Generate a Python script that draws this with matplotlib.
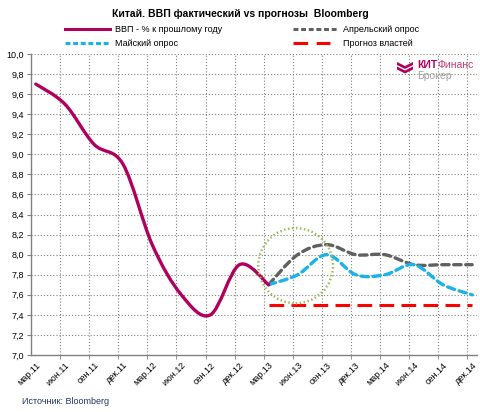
import numpy as np
import matplotlib
matplotlib.use("Agg")
import matplotlib.pyplot as plt
from matplotlib.path import Path
from matplotlib.patches import PathPatch, Ellipse, Polygon
from matplotlib.lines import Line2D

plt.rcParams['font.family'] = ['Liberation Sans', 'DejaVu Sans']

# monthly category axis, мар.11 .. дек.14
months = ['мар', 'июн', 'сен', 'дек']
years = ['11', '12', '13', '14']
tick_labels = [f"{m}.{y}" for y in years for m in months][:16]
n_months = 46

# quarterly values (index = months since мар.11)
gdp_x = [0, 3, 6, 9, 12, 15, 18, 21, 24]
gdp_y = [9.7, 9.5, 9.1, 8.9, 8.1, 7.6, 7.4, 7.9, 7.7]

fc_x = [24, 27, 30, 33, 36, 39, 42, 45]
april_y = [7.7, 8.0, 8.1, 8.0, 8.0, 7.9, 7.9, 7.9]
may_y = [7.7, 7.8, 8.0, 7.8, 7.8, 7.9, 7.7, 7.6]
gov_y = [7.5, 7.5, 7.5, 7.5, 7.5, 7.5, 7.5, 7.5]

C_GDP = '#B0005E'
C_APR = '#606060'
C_MAY = '#1AB2EA'
C_GOV = '#FF0000'
C_CIRC = '#9BBB59'


def smooth_path(xs, ys):
    # Excel-like smoothed line: cubic Bezier through the points
    p = np.column_stack([xs, ys]).astype(float)
    verts = [p[0]]
    codes = [Path.MOVETO]
    n = len(p)
    for i in range(n - 1):
        p0 = p[i - 1] if i > 0 else p[i]
        p3 = p[i + 2] if i + 2 < n else p[i + 1]
        c1 = p[i] + (p[i + 1] - p0) / 6.0
        c2 = p[i + 1] - (p3 - p[i]) / 6.0
        verts += [c1, c2, p[i + 1]]
        codes += [Path.CURVE4] * 3
    return Path(verts, codes)


fig = plt.figure(figsize=(4.8, 4.12), dpi=100)
ax = fig.add_axes([31 / 480, 1 - 355 / 412, 446 / 480, 301 / 412])

ax.set_xlim(-0.5, n_months - 0.5)
ax.set_ylim(7.0, 10.0)

yt = np.arange(7.0, 10.01, 0.2)
ax.set_yticks(yt)
ax.set_yticklabels([f"{v:.1f}".replace('.', ',') for v in yt], fontsize=6.5)
ax.set_xticks(range(0, n_months, 3))
ax.set_xticklabels(tick_labels, rotation=45, ha='right', rotation_mode='anchor', fontsize=6.5)
ax.set_xticks(np.arange(2.5, n_months, 3), minor=True)
ax.tick_params(axis='x', which='major', length=0, pad=4)
ax.tick_params(axis='x', which='minor', length=3, color='#808080')
ax.tick_params(axis='y', length=3, color='#808080', pad=2)

for v in yt[1:]:
    ax.axhline(v, color='#808080', lw=0.8, ls=(0, (1, 1.8)), zorder=1)
for v in np.arange(2.5, n_months, 3):
    ax.axvline(v, color='#808080', lw=0.8, ls=(0, (1, 1.8)), zorder=1)

for s in ['top', 'right']:
    ax.spines[s].set_visible(False)
for s in ['left', 'bottom']:
    ax.spines[s].set_color('#808080')
    ax.spines[s].set_linewidth(1.0)

ax.add_patch(PathPatch(smooth_path(gdp_x, gdp_y), fill=False, ec=C_GDP, lw=2.4,
                       zorder=5, capstyle='round'))
ax.add_patch(PathPatch(smooth_path(fc_x, april_y), fill=False, ec=C_APR, lw=2.4,
                       ls=(0, (2.2, 1.4)), capstyle='round', zorder=4))
ax.add_patch(PathPatch(smooth_path(fc_x, may_y), fill=False, ec=C_MAY, lw=2.4,
                       ls=(0, (2.2, 1.4)), capstyle='round', zorder=4))
ax.plot(fc_x, gov_y, color=C_GOV, lw=2.2, dashes=(4.8, 2.4), zorder=4)

ax.add_patch(Ellipse((26.8, 7.89), 7.7, 0.75, fill=False, ec=C_CIRC, lw=1.8,
                     ls=(0, (0.6, 1.0)), zorder=6))

# title
fig.text(0.5, 1 - 14 / 412, 'Китай. ВВП фактический vs прогнозы  Bloomberg',
         ha='center', va='center', fontsize=7.5, fontweight='bold')

# legend
def leg(x0, x1, y, color, text, **kw):
    fig.add_artist(Line2D([x0 / 480, x1 / 480], [1 - y / 412, 1 - y / 412],
                          color=color, lw=2.2, **kw))
    fig.text(115 / 480 if x0 < 200 else 343 / 480, 1 - y / 412, text,
             ha='left', va='center', fontsize=6.5)

leg(65, 110, 29, C_GDP, 'ВВП - % к прошлому году')
leg(293, 338, 29, C_APR, 'Апрельский опрос', dashes=(1.6, 0.9))
leg(65, 110, 43, C_MAY, 'Майский опрос', dashes=(1.6, 0.9))
leg(293, 330, 43, C_GOV, 'Прогноз властей', dashes=(4.8, 2.8))

# logo
for dy in (0, 4.5):
    pts = [(397, 62 + dy), (405, 66 + dy), (413, 62 + dy), (413, 65 + dy), (405, 69 + dy), (397, 65 + dy)]
    fig.add_artist(Polygon([(px / 480, 1 - py / 412) for px, py in pts], closed=True,
                           fc=C_GDP, ec='none'))
fig.text(417 / 480, 1 - 65 / 412, 'КИТ', color=C_GDP, fontsize=7.5, fontweight='bold',
         ha='left', va='center')
fig.text(437 / 480, 1 - 65 / 412, 'Финанс', color='#C0407A', fontsize=7.5,
         ha='left', va='center')
fig.text(417 / 480, 1 - 76 / 412, 'Брокер', color='#A0A0A0', fontsize=7.5,
         ha='left', va='center')

fig.text(22 / 480, 1 - 402 / 412, 'Источник: Bloomberg', color='#1F3864',
         fontsize=6.5, ha='left', va='center')

fig.savefig('out.png', dpi=100)
